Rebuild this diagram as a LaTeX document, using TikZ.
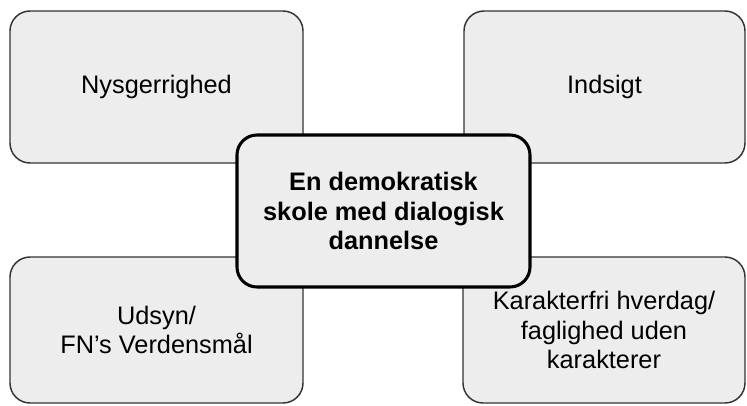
\documentclass[tikz,border=0pt]{standalone}
\usepackage{fontspec}
\setmainfont{Liberation Sans}
\usepackage{tikz}
\usetikzlibrary{backgrounds,calc}

\begin{document}
\begin{tikzpicture}[x=0.75pt,y=0.75pt,
  felt/.style={draw=black!80,line width=1.1pt,fill=black!7,rounded corners=15pt,
    align=center,inner sep=0pt,font=\fontsize{19}{22}\selectfont},
  midte/.style={felt,draw=black,line width=2.3pt,font=\fontsize{19}{22}\selectfont\bfseries}]
\useasboundingbox (0,0) rectangle (747,-405);
\node[felt,minimum width=219.75pt,minimum height=114pt] (nysg) at (156.5,-87) {Nysgerrighed};
\node[felt,minimum width=210.75pt,minimum height=114pt] (indsigt) at (604.5,-87) {Indsigt};
\node[felt,minimum width=219.75pt,minimum height=109.5pt] (udsyn) at (156.5,-330) {Udsyn/\\FN’s Verdensmål};
\node[felt,minimum width=211.5pt,minimum height=109.5pt] (karakter) at (604,-330) {Karakterfri hverdag/\\faglighed uden\\karakterer};
\node[midte,minimum width=219.75pt,minimum height=114pt] (skole) at (383.5,-211) {En demokratisk\\skole med dialogisk\\dannelse};
\end{tikzpicture}
\end{document}
